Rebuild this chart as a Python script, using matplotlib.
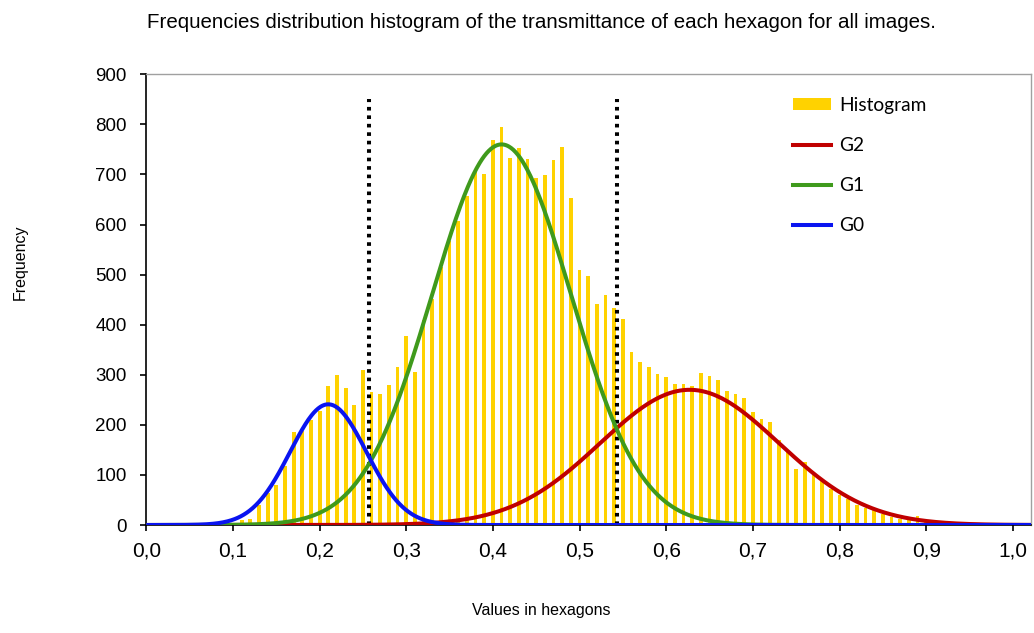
import matplotlib
matplotlib.use("Agg")
import matplotlib.pyplot as plt
import numpy as np
from matplotlib.patches import Patch
from matplotlib.lines import Line2D

# ---- data ----
bin_centers = [0.11, 0.12, 0.13, 0.14, 0.15, 0.16, 0.17, 0.18, 0.19, 0.20,
               0.21, 0.22, 0.23, 0.24, 0.25, 0.26, 0.27, 0.28, 0.29, 0.30,
               0.31, 0.32, 0.33, 0.34, 0.35, 0.36, 0.37, 0.38, 0.39, 0.40,
               0.41, 0.42, 0.43, 0.44, 0.45, 0.46, 0.47, 0.48, 0.49, 0.50,
               0.51, 0.52, 0.53, 0.54, 0.55, 0.56, 0.57, 0.58, 0.59, 0.60,
               0.61, 0.62, 0.63, 0.64, 0.65, 0.66, 0.67, 0.68, 0.69, 0.70,
               0.71, 0.72, 0.73, 0.74, 0.75, 0.76, 0.77, 0.78, 0.79, 0.80,
               0.81, 0.82, 0.83, 0.84, 0.85, 0.86, 0.87, 0.88, 0.89, 0.90,
               0.91, 0.92]
frequencies = [9, 11, 40, 63, 80, 117, 186, 187, 210, 227,
               277, 300, 273, 240, 309, 265, 261, 280, 316, 377,
               305, 409, 452, 515, 568, 608, 657, 705, 700, 769,
               795, 733, 753, 730, 693, 699, 728, 755, 653, 510,
               497, 442, 459, 433, 412, 345, 326, 315, 302, 295,
               281, 281, 278, 303, 297, 289, 268, 262, 253, 225,
               212, 205, 170, 150, 111, 125, 99, 87, 71, 60,
               51, 40, 34, 30, 22, 15, 12, 10, 18, 5,
               3, 6]

# Gaussian components (label, mean, sigma, amplitude)
g_labels = ["G2", "G1", "G0"]
g_means = [0.627, 0.410, 0.210]
g_sigmas = [0.103, 0.080, 0.044]
g_amps = [270, 760, 241]
g_colors = ["#C00000", "#3F9A1C", "#0A14F0"]

thresholds = [0.2575, 0.543]
threshold_top = 850

x_ticks = [0.0, 0.1, 0.2, 0.3, 0.4, 0.5, 0.6, 0.7, 0.8, 0.9, 1.0]
x_tick_labels = ["0,0", "0,1", "0,2", "0,3", "0,4", "0,5", "0,6", "0,7", "0,8", "0,9", "1,0"]
y_ticks = [0, 100, 200, 300, 400, 500, 600, 700, 800, 900]

title = "Frequencies distribution histogram of the transmittance of each hexagon for all images."

# ---- figure ----
W, H = 1034, 633
fig = plt.figure(figsize=(W / 100, H / 100), dpi=100)
ax = fig.add_axes([146.3 / W, 1 - 525 / H, (1031 - 146.3) / W, (525 - 74.3) / H])

font = "Liberation Sans"
bar_color = "#FFD200"

ax.bar(bin_centers, frequencies, width=0.0044, color=bar_color, zorder=2)

for t in thresholds:
    ax.plot([t, t], [0, threshold_top], color="black", lw=2.9,
            linestyle=(0, (0.9, 1.2)), dash_capstyle="butt", zorder=3)

xs = np.linspace(0.0, 1.03, 1200)
for lab, m, s, a, c in zip(g_labels, g_means, g_sigmas, g_amps, g_colors):
    ys = a * np.exp(-0.5 * ((xs - m) / s) ** 2)
    ax.plot(xs, ys, color=c, lw=2.9, zorder=4, solid_capstyle="butt")

ax.set_xlim(0.0, 1.021)
ax.set_ylim(0, 900)
ax.set_xticks(x_ticks)
ax.set_xticklabels(x_tick_labels, fontfamily=font, fontsize=15)
ax.set_yticks(y_ticks)
ax.set_yticklabels([str(v) for v in y_ticks], fontfamily=font, fontsize=13.5)
ax.tick_params(axis="x", direction="out", length=4, width=1.2, pad=8, colors="black")
ax.tick_params(axis="y", direction="out", length=4, width=1.2, pad=10, colors="black")

for side in ["top", "right"]:
    ax.spines[side].set_color("#A0A0A0")
    ax.spines[side].set_linewidth(1.0)
for side in ["left", "bottom"]:
    ax.spines[side].set_color("black")
    ax.spines[side].set_linewidth(1.2)

fig.text(541 / W, 1 - 22 / H, title, ha="center", va="center",
         fontfamily=font, fontsize=14.8)
fig.text(541 / W, 1 - 610 / H, "Values in hexagons", ha="center", va="center",
         fontfamily=font, fontsize=11.5)
fig.text(20 / W, 1 - 262 / H, "Frequency", ha="center", va="center",
         rotation=90, fontfamily=font, fontsize=11.5)

handles = [Patch(facecolor=bar_color, edgecolor="none")]
handles += [Line2D([0], [0], color=c, lw=2.9) for c in g_colors]
labels = ["Histogram"] + g_labels
leg = fig.legend(handles, labels, loc="upper left",
                 bbox_to_anchor=(793 / W, 1 - 97 / H), frameon=False,
                 prop={"family": "Lato", "size": 13.8}, borderpad=0,
                 borderaxespad=0, handlelength=2.0, handleheight=0.6,
                 handletextpad=0.4, labelspacing=1.2)

fig.savefig("out.png", dpi=100, facecolor="white")
